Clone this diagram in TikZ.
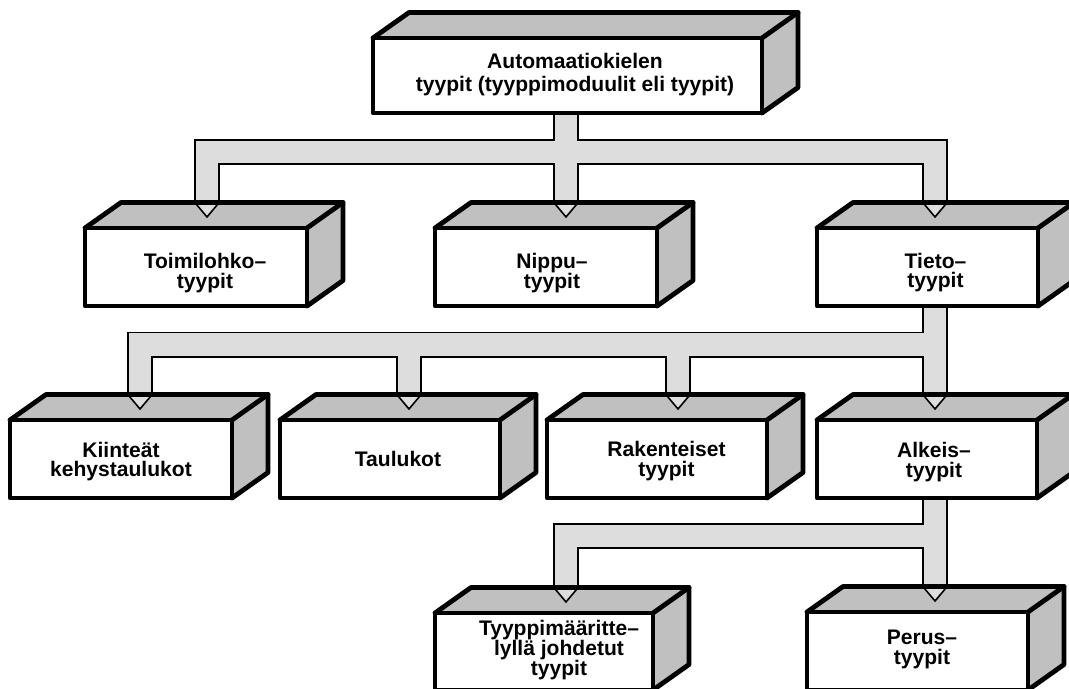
\documentclass[tikz,border=0pt]{standalone}
\usepackage{fontspec}
\setmainfont{Liberation Sans}
\usetikzlibrary{calc}
\pgfdeclarelayer{bg}
\pgfdeclarelayer{fg}
\pgfsetlayers{bg,main,fg}
\definecolor{facegray}{RGB}{192,192,192}
\definecolor{pipegray}{RGB}{221,221,221}
\tikzset{
  frontface/.style={draw=black, fill=white, line width=3.6pt, line join=round, inner sep=0pt, outer sep=0pt},
  boxedge/.style={draw=black, line width=3.6pt, line join=round, line cap=round},
  boxlabel/.style={font=\bfseries\fontsize{15.8}{14.8}\selectfont, align=center, inner sep=0pt},
  pipe/.style={draw=pipegray, line width=16.9pt, preaction={draw=black, line width=19.5pt}},
  tipstyle/.style={fill=pipegray, draw=black, line width=1.2pt, line join=miter},
}
% name, x1, y1, x2, y2, text dx, text dy, text
\newcommand\tdbox[8]{%
  \pgfmathsetmacro\bw{(#4-#2)*0.75}%
  \pgfmathsetmacro\bh{(#5-#3)*0.75}%
  \begin{pgfonlayer}{fg}
    \node[frontface, minimum width=\bw pt, minimum height=\bh pt] (#1) at ({(#2+#4)/2},{(#3+#5)/2}) {};
    \node[boxlabel] (#1-t) at ({(#2+#4)/2+#6},{(#3+#5)/2+#7}) {#8};
    \draw[boxedge] (#1.north west) -- ++(36,-25.5) -- ($(#1.north east)+(36,-25.5)$) -- ($(#1.south east)+(36,-25.5)$) -- (#1.south east);
    \draw[boxedge] (#1.north east) -- ++(36,-25.5);
  \end{pgfonlayer}
  \coordinate (#1-bt) at ($(#1.north)+(0,-25.5)$);
  \begin{pgfonlayer}{bg}
    \fill[facegray] (#1.north west) -- ++(36,-25.5) -- ($(#1.north east)+(36,-25.5)$) -- ($(#1.south east)+(36,-25.5)$) -- (#1.south east) -- (#1.north east) -- cycle;
  \end{pgfonlayer}
}
% x, box name
\newcommand\vtip[2]{%
  \coordinate (#2-v) at (#1,0 |- #2-bt);
  \path[tipstyle] ($(#2-v)+(-12.2,0)$) -- ($(#2-v)+(0,14.5)$) -- ($(#2-v)+(12.2,0)$);
}
\begin{document}
\begin{tikzpicture}[x=0.75pt, y=-0.75pt]
\useasboundingbox (0,0) rectangle (1069,688);

\tdbox{top}{373}{38}{762}{113}{7.5}{-1}{Automaatiokielen\\[2.5pt]tyypit (tyyppimoduulit eli tyypit)}

\tdbox{toimi}{85}{228}{307}{306}{9}{6}{Toimilohko–\\tyypit}
\tdbox{nippu}{435}{228}{657}{306}{6}{6}{Nippu–\\tyypit}
\tdbox{tieto}{817}{228}{1038}{306}{8}{5.5}{Tieto–\\tyypit}

\tdbox{kiint}{10}{420}{232}{498}{0}{2.5}{Kiinteät\\kehystaulukot}
\tdbox{taul}{280}{420}{500}{498}{8}{0}{Taulukot}
\tdbox{rak}{547}{420}{767}{498}{9.5}{2}{Rakenteiset\\tyypit}
\tdbox{alkeis}{817}{420}{1037}{498}{7}{3}{Alkeis–\\tyypit}

\tdbox{tyyppi}{435}{613}{653}{690}{15}{-1.5}{Tyyppimääritte–\\lyllä johdetut\\tyypit}
\tdbox{perus}{807}{612}{1028}{690}{4.5}{-1.5}{Perus–\\tyypit}

% connectors level 1
\draw[pipe] (566,0 |- top.south) -- (566,0 |- nippu-bt)
  (207,0 |- toimi-bt) -- (207,152) -- (935,152) -- (935,0 |- tieto-bt);
% connectors level 2
\draw[pipe] (935,0 |- tieto.south) -- (935,0 |- alkeis-bt)
  (140,0 |- kiint-bt) -- (140,344.5) -- (935,344.5)
  (409,344.5) -- (409,0 |- taul-bt)
  (678,344.5) -- (678,0 |- rak-bt);
% connectors level 3
\draw[pipe] (935,0 |- alkeis.south) -- (935,0 |- perus-bt)
  (566,0 |- tyyppi-bt) -- (566,536) -- (935,536);

\vtip{207}{toimi}
\vtip{566}{nippu}
\vtip{935}{tieto}
\vtip{140}{kiint}
\vtip{409}{taul}
\vtip{678}{rak}
\vtip{935}{alkeis}
\vtip{566}{tyyppi}
\vtip{935}{perus}
\end{tikzpicture}
\end{document}
